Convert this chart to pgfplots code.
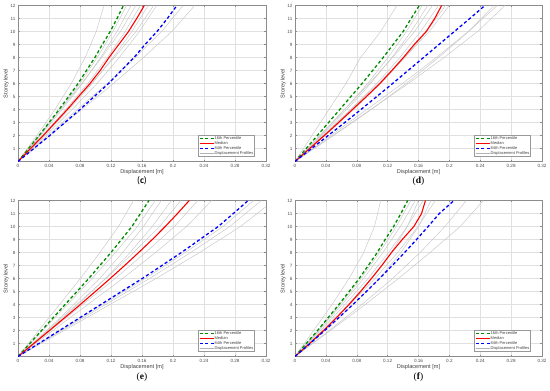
\documentclass[border=0pt]{standalone}
\usepackage{pgfplots}
\pgfplotsset{compat=1.18}
\usepackage{fontspec}
\setmainfont{Liberation Sans}
\newfontfamily\capsans{Carlito}
\newfontfamily\capserif{Liberation Serif}
\definecolor{mygreen}{RGB}{0,140,0}
\pgfplotsset{
  myaxis/.style={
    scale only axis, width=248pt, height=156pt,
    xmin=0, xmax=0.32, ymin=0, ymax=12,
    xtick={0,0.04,0.08,0.12,0.16,0.2,0.24,0.28,0.32},
    xticklabels={0,0.04,0.08,0.12,0.16,0.2,0.24,0.28,0.32},
    ytick={1,2,3,4,5,6,7,8,9,10,11,12},
    /pgf/number format/assume math mode=true,
    ticklabel style={font=\fontsize{4.6}{5}\selectfont, text=black!70},
    xticklabel style={yshift=1pt},
    yticklabel style={xshift=1pt},
    grid=major, major grid style={black!12, line width=0.3pt},
    axis line style={black!45, line width=0.4pt},
    tick style={black!45, line width=0.3pt},
    major tick length=1.8pt,
    tick align=inside,
    xlabel={Displacement [m]}, ylabel={Storey level},
    label style={font=\fontsize{5.6}{6}\selectfont, text=black!75},
    xlabel style={at={(axis description cs:0.5,-0.07)}, anchor=center},
    ylabel style={at={(axis description cs:-0.048,0.5)}, anchor=center},
    legend style={at={(rel axis cs:0.955,0.03)}, anchor=south east,
      font=\fontsize{4}{4}\selectfont, draw=black!40, fill=white,
      inner sep=0.8pt, row sep=0pt, text=black!75,
      nodes={inner sep=0.5pt, text height=3.1pt, text depth=0.9pt}},
    legend cell align=left,
    legend image code/.code={\draw[#1] (0pt,0pt) -- (14pt,0pt);},
    clip=true,
  },
  gline/.style={color=black!22, line width=0.45pt, forget plot},
  p16/.style={color=mygreen, line width=1.3pt, dash pattern=on 3.2pt off 2.4pt},
  pmed/.style={color=red, line width=1.1pt},
  p84/.style={color=blue, line width=1.3pt, dash pattern=on 3.2pt off 2.4pt},
}
\begin{document}
\begin{tikzpicture}
\path[use as bounding box] (0,0) rectangle (550pt,-391pt);
% ---------------- (c)
\begin{axis}[myaxis, at={(18pt,-5.5pt)}, anchor=north west]
\addplot[gline] coordinates {(0,0)(.0244,2)(.0477,4)(.0688,6)(.0866,8)(.1010,10)(.111,12)};
\addplot[gline] coordinates {(0,0)(.028,2)(.0546,4)(.0798,6)(.1022,8)(.1225,10)(.140,12)};
\addplot[gline] coordinates {(0,0)(.0292,2)(.0569,4)(.0832,6)(.1066,8)(.1278,10)(.146,12)};
\addplot[gline] coordinates {(0,0)(.0274,2)(.0547,4)(.0821,6)(.1079,8)(.1322,10)(.152,12)};
\addplot[gline] coordinates {(0,0)(.0316,2)(.0616,4)(.0901,6)(.1153,8)(.1383,10)(.158,12)};
\addplot[gline] coordinates {(0,0)(.0336,2)(.0655,4)(.0958,6)(.1226,8)(.1470,10)(.168,12)};
\addplot[gline] coordinates {(0,0)(.0315,2)(.0630,4)(.0945,6)(.1243,8)(.1523,10)(.175,12)};
\addplot[gline] coordinates {(0,0)(.0358,2)(.0698,4)(.1020,6)(.1307,8)(.1566,10)(.179,12)};
\addplot[gline] coordinates {(0,0)(.0383,2)(.0767,4)(.1150,6)(.1512,8)(.1853,10)(.213,12)};
\addplot[gline] coordinates {(0,0)(.0410,2)(.0821,4)(.1231,6)(.1619,8)(.1984,10)(.228,12)};
\addplot[p16] coordinates {(0,0)(.0136,1)(.0272,2)(.0401,3)(.0530,4)(.0653,5)(.0775,6)(.0884,7)(.0993,8)(.1088,9)(.1190,10)(.1278,11)(.136,12)};
\addlegendentry{16th Percentile}
\addplot[pmed] coordinates {(0,0)(.0163,1)(.0326,2)(.0481,3)(.0636,4)(.0782,5)(.0929,6)(.1060,7)(.1175,8)(.1300,9)(.1426,10)(.1532,11)(.163,12)};
\addlegendentry{Median}
\addplot[p84] coordinates {(0,0)(.0205,1)(.0410,2)(.0605,3)(.0800,4)(.0984,5)(.1169,6)(.1333,7)(.1497,8)(.1640,9)(.1794,10)(.1927,11)(.205,12)};
\addlegendentry{84th Percentile}
\addlegendimage{color=black!30, line width=0.45pt}
\addlegendentry{Displacement Profiles}
\end{axis}
% ---------------- (d)
\begin{axis}[myaxis, width=247pt, at={(295pt,-5.5pt)}, anchor=north west]
\addplot[gline] coordinates {(0,0)(.022,2)(.044,4)(.066,6)(.085,8)(.111,10)(.132,12)};
\addplot[gline] coordinates {(0,0)(.033,2)(.0644,4)(.0941,6)(.1205,8)(.1444,10)(.165,12)};
\addplot[gline] coordinates {(0,0)(.0344,2)(.0671,4)(.0980,6)(.1256,8)(.1505,10)(.172,12)};
\addplot[gline] coordinates {(0,0)(.032,2)(.0641,4)(.0961,6)(.1264,8)(.1549,10)(.178,12)};
\addplot[gline] coordinates {(0,0)(.0372,2)(.0725,4)(.1060,6)(.1358,8)(.1628,10)(.186,12)};
\addplot[gline] coordinates {(0,0)(.039,2)(.0761,4)(.1112,6)(.1424,8)(.1706,10)(.195,12)};
\addplot[gline] coordinates {(0,0)(.036,2)(.072,4)(.108,6)(.142,8)(.174,10)(.200,12)};
\addplot[gline] coordinates {(0,0)(.0464,2)(.0929,4)(.1393,6)(.1832,8)(.2245,10)(.258,12)};
\addplot[gline] coordinates {(0,0)(.049,2)(.0979,4)(.1469,6)(.1931,8)(.2366,10)(.272,12)};
\addplot[gline] coordinates {(0,0)(.0500,2)(.0990,4)(.1440,6)(.1860,8)(.2250,10)(.262,12)};
\addplot[p16] coordinates {(0,0)(.0145,1)(.029,2)(.0435,3)(.058,4)(.0725,5)(.0869,6)(.1006,7)(.1143,8)(.1272,9)(.1401,10)(.1505,11)(.161,12)};
\addlegendentry{16th Percentile}
\addplot[pmed] coordinates {(0,0)(.019,1)(.038,2)(.0565,3)(.0745,4)(.0925,5)(.110,6)(.1255,7)(.1405,8)(.1545,9)(.170,10)(.181,11)(.190,12)};
\addlegendentry{Median}
\addplot[p84] coordinates {(0,0)(.0215,1)(.043,2)(.0645,3)(.0855,4)(.106,5)(.1265,6)(.1465,7)(.1665,8)(.1865,9)(.2065,10)(.2265,11)(.246,12)};
\addlegendentry{84th Percentile}
\addlegendimage{color=black!30, line width=0.45pt}
\addlegendentry{Displacement Profiles}
\end{axis}
% ---------------- (e)
\begin{axis}[myaxis, at={(18pt,-200.5pt)}, anchor=north west]
\addplot[gline] coordinates {(0,0)(.0268,2)(.0536,4)(.0805,6)(.1058,8)(.1296,10)(.149,12)};
\addplot[gline] coordinates {(0,0)(.0319,2)(.0637,4)(.0956,6)(.1257,8)(.1540,10)(.177,12)};
\addplot[gline] coordinates {(0,0)(.037,2)(.0722,4)(.1055,6)(.1351,8)(.1619,10)(.185,12)};
\addplot[gline] coordinates {(0,0)(.0396,2)(.0772,4)(.1129,6)(.1445,8)(.1733,10)(.198,12)};
\addplot[gline] coordinates {(0,0)(.0378,2)(.0756,4)(.1134,6)(.1491,8)(.1827,10)(.210,12)};
\addplot[gline] coordinates {(0,0)(.0418,2)(.0835,4)(.1253,6)(.1647,8)(.2018,10)(.232,12)};
\addplot[gline] coordinates {(0,0)(.045,2)(.090,4)(.135,6)(.1775,8)(.2175,10)(.250,12)};
\addplot[gline] coordinates {(0,0)(.0547,2)(.1094,4)(.1642,6)(.2158,8)(.2645,10)(.304,12)};
\addplot[gline] coordinates {(0,0)(.0565,2)(.1130,4)(.1696,6)(.2229,8)(.2732,10)(.314,12)};
\addplot[gline] coordinates {(0,0)(.0594,2)(.1188,4)(.1782,6)(.2343,8)(.2871,10)(.330,12)};
\addplot[p16] coordinates {(0,0)(.0152,1)(.0304,2)(.0456,3)(.0608,4)(.0761,5)(.0913,6)(.1056,7)(.120,8)(.1335,9)(.147,10)(.158,11)(.169,12)};
\addlegendentry{16th Percentile}
\addplot[pmed] coordinates {(0,0)(.0203,1)(.0406,2)(.0606,3)(.0804,4)(.0998,5)(.119,6)(.1376,7)(.1557,8)(.1733,9)(.190,10)(.2058,11)(.221,12)};
\addlegendentry{Median}
\addplot[p84] coordinates {(0,0)(.0267,1)(.0535,2)(.0802,3)(.1069,4)(.1336,5)(.1604,6)(.1856,7)(.2109,8)(.2346,9)(.2584,10)(.2779,11)(.297,12)};
\addlegendentry{84th Percentile}
\addlegendimage{color=black!30, line width=0.45pt}
\addlegendentry{Displacement Profiles}
\end{axis}
% ---------------- (f)
\begin{axis}[myaxis, width=247pt, at={(295pt,-200.5pt)}, anchor=north west]
\addplot[gline] coordinates {(0,0)(.024,2)(.048,4)(.070,6)(.089,8)(.103,10)(.111,12)};
\addplot[gline] coordinates {(0,0)(.030,2)(.0585,4)(.0855,6)(.1095,8)(.1313,10)(.150,12)};
\addplot[gline] coordinates {(0,0)(.0312,2)(.0608,4)(.0889,6)(.1139,8)(.1365,10)(.156,12)};
\addplot[gline] coordinates {(0,0)(.0352,2)(.0688,4)(.0992,6)(.1248,8)(.1456,10)(.160,12)};
\addplot[gline] coordinates {(0,0)(.0332,2)(.0647,4)(.0946,6)(.1212,8)(.1453,10)(.166,12)};
\addplot[gline] coordinates {(0,0)(.0387,2)(.0757,4)(.1091,6)(.1373,8)(.1602,10)(.176,12)};
\addplot[gline] coordinates {(0,0)(.0364,2)(.0710,4)(.1037,6)(.1329,8)(.1593,10)(.182,12)};
\addplot[gline] coordinates {(0,0)(.0444,2)(.0866,4)(.1265,6)(.1621,8)(.1943,10)(.222,12)};
\addplot[gline] coordinates {(0,0)(.046,2)(.091,4)(.134,6)(.175,8)(.214,10)(.244,12)};
\addplot[p16] coordinates {(0,0)(.0146,1)(.0292,2)(.0431,3)(.0569,4)(.0701,5)(.0832,6)(.0949,7)(.1066,8)(.1168,9)(.1278,10)(.1372,11)(.146,12)};
\addlegendentry{16th Percentile}
\addplot[pmed] coordinates {(0,0)(.019,1)(.037,2)(.054,3)(.070,4)(.085,5)(.099,6)(.1125,7)(.125,8)(.139,9)(.154,10)(.164,11)(.169,12)};
\addlegendentry{Median}
\addplot[p84] coordinates {(0,0)(.0195,1)(.0385,2)(.057,3)(.075,4)(.0925,5)(.1095,6)(.126,7)(.142,8)(.1575,9)(.1725,10)(.187,11)(.206,12)};
\addlegendentry{84th Percentile}
\addlegendimage{color=black!30, line width=0.45pt}
\addlegendentry{Displacement Profiles}
\end{axis}
% captions
\node[font=\capsans\fontsize{9.5}{10}\selectfont] at (142pt,-181pt) {(\textbf{c})};
\node[font=\capserif\fontsize{9.5}{10}\selectfont] at (418.5pt,-181pt) {(\textbf{d})};
\node[font=\capserif\fontsize{9.5}{10}\selectfont] at (142pt,-377pt) {(\textbf{e})};
\node[font=\capserif\fontsize{9.5}{10}\selectfont] at (418.5pt,-377pt) {(\textbf{f})};
\end{tikzpicture}
\end{document}
